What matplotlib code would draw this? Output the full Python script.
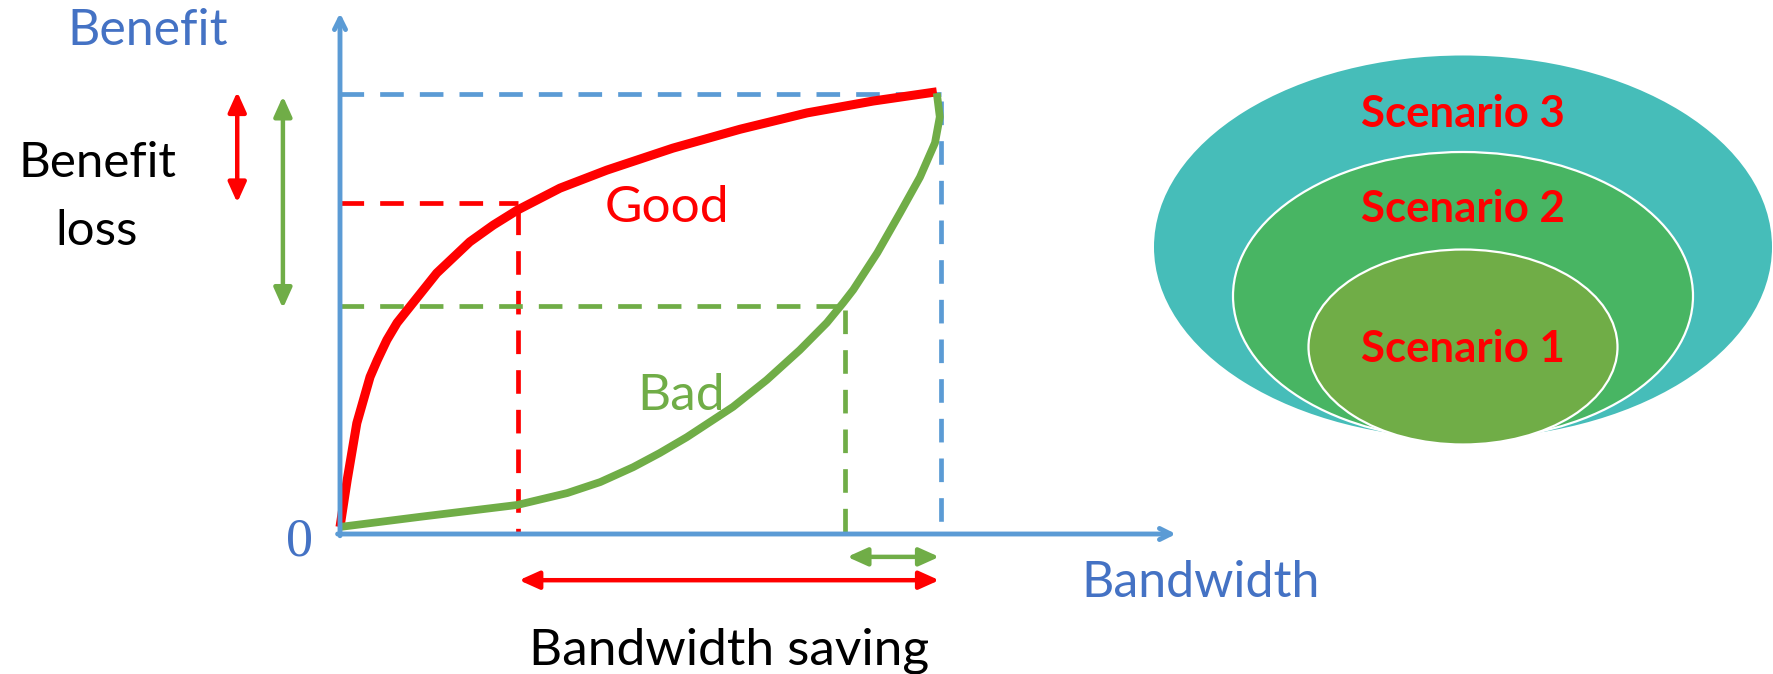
import numpy as np
import matplotlib.pyplot as plt
from matplotlib.patches import Ellipse

plt.rcParams['font.family'] = ['Lato', 'DejaVu Sans']

# curva "Good": beneficio cai pouco quando se reduz a banda
bw_good = [0.0, 0.012, 0.028, 0.050, 0.062, 0.078, 0.095, 0.116, 0.161, 0.216, 0.255,
           0.295, 0.366, 0.444, 0.554, 0.666, 0.777, 0.887, 0.993]
benefit_good = [0.016, 0.123, 0.252, 0.357, 0.395, 0.441, 0.480, 0.516, 0.593, 0.664, 0.702,
                0.736, 0.786, 0.827, 0.877, 0.920, 0.957, 0.984, 1.005]

# curva "Bad": beneficio cai rapido
bw_bad = [0.0, 0.133, 0.295, 0.378, 0.433, 0.488, 0.532, 0.577, 0.654, 0.710, 0.765,
          0.810, 0.837, 0.854, 0.894, 0.932, 0.965, 0.990, 0.998, 0.993]
benefit_bad = [0.016, 0.039, 0.066, 0.093, 0.118, 0.152, 0.184, 0.220, 0.289, 0.350, 0.418,
               0.480, 0.525, 0.555, 0.639, 0.730, 0.811, 0.889, 0.948, 1.002]

# banda total e beneficio maximo
full_bw = 1.0
full_benefit = 1.0
# pontos de operacao de cada curva (banda, beneficio)
good_bw, good_benefit = 0.296, 0.753
bad_bw, bad_benefit = 0.840, 0.518

scenarios = ['Scenario 3', 'Scenario 2', 'Scenario 1']

RED = '#FF0000'
GREEN = '#70AD47'
BLUE = '#5B9BD5'
TXT_BLUE = '#4472C4'

W, H = 1773, 674
fig = plt.figure(figsize=(W / 100, H / 100), dpi=100)

# eixo do grafico: origem em (340, 534) px, uma unidade = 601 x 440 px
ox, oy, ux, uy = 340, 534, 601, 440
ax = fig.add_axes([ox / W, (H - oy) / H, ux / W, uy / H])
ax.set_xlim(0, 1)
ax.set_ylim(0, 1)
ax.axis('off')

# camada em pixels para textos e elipses
lay = fig.add_axes([0, 0, 1, 1])
lay.set_xlim(0, W)
lay.set_ylim(H, 0)
lay.axis('off')

dash = (0, (5.0, 3.4))
kw = dict(lw=3.4, linestyle=dash, clip_on=False, dash_capstyle='butt')
# linhas tracejadas de referencia
ax.plot([0, full_bw], [full_benefit, full_benefit], color=BLUE, **kw)
ax.plot([full_bw, full_bw], [full_benefit - 0.015, 0.0], color=BLUE, **kw)
ax.plot([0, good_bw], [good_benefit, good_benefit], color=RED, **kw)
ax.plot([good_bw, good_bw], [good_benefit - 0.02, 0.0], color=RED, **kw)
ax.plot([0, bad_bw], [bad_benefit, bad_benefit], color=GREEN, **kw)
ax.plot([bad_bw, bad_bw], [bad_benefit - 0.01, 0.0], color=GREEN, **kw)

# eixos com seta aberta
axis_arrow = dict(arrowstyle='->,head_length=0.8,head_width=0.4', color=BLUE,
                  lw=3.5, shrinkA=0, shrinkB=0, capstyle='round', joinstyle='round')
ax.annotate('', xy=(0, 1.184), xytext=(0, -0.004), arrowprops=axis_arrow,
            annotation_clip=False)
ax.annotate('', xy=(1.391, 0), xytext=(-0.004, 0), arrowprops=axis_arrow,
            annotation_clip=False)

# curvas
ax.plot(bw_good, benefit_good, color=RED, lw=6.5, solid_capstyle='butt',
        solid_joinstyle='round', clip_on=False)
ax.plot(bw_bad, benefit_bad, color=GREEN, lw=5.6, solid_capstyle='butt',
        solid_joinstyle='round', clip_on=False)

# setas duplas: perda de beneficio e economia de banda
def seta(p0, p1, cor):
    ax.annotate('', xy=p1, xytext=p0, annotation_clip=False,
                arrowprops=dict(arrowstyle='<|-|>,head_length=0.6,head_width=0.27',
                                mutation_scale=20, color=cor, lw=3.2,
                                shrinkA=0, shrinkB=0))

seta((-0.171, good_benefit), (-0.171, full_benefit + 0.005), RED)
seta((-0.095, bad_benefit - 0.005), (-0.095, full_benefit - 0.005), GREEN)
seta((bad_bw + 0.004, -0.052), (full_bw - 0.003, -0.052), GREEN)
seta((good_bw + 0.002, -0.105), (full_bw - 0.003, -0.105), RED)

# textos
lay.text(148, 45, 'Benefit', color=TXT_BLUE, fontsize=36, ha='center', va='baseline')
lay.text(97, 177, 'Benefit', color='black', fontsize=35.5, ha='center', va='baseline')
lay.text(97, 245, 'loss', color='black', fontsize=35.5, ha='center', va='baseline')
lay.text(299, 555, '0', color=TXT_BLUE, fontsize=39, ha='center', va='baseline',
         family='Liberation Serif')
lay.text(667, 222, 'Good', color=RED, fontsize=37, ha='center', va='baseline')
lay.text(681, 410, 'Bad', color=GREEN, fontsize=37, ha='center', va='baseline')
lay.text(1201, 597, 'Bandwidth', color=TXT_BLUE, fontsize=36, ha='center', va='baseline')
lay.text(729, 665, 'Bandwidth saving', color='black', fontsize=37, ha='center',
         va='baseline')

# elipses dos cenarios (de fora para dentro)
centros = [(1463, 247), (1463, 296), (1463, 347)]
larguras = [618, 460, 309]
alturas = [383, 288, 195]
cores = ['#46BDB9', '#48B563', '#70AD47']
bordas = ['none', 'white', 'white']
texto_y = [127, 222, 362]
for c, w, h, cor, b, nome, ty in zip(centros, larguras, alturas, cores, bordas,
                                     scenarios, texto_y):
    lay.add_patch(Ellipse(c, w, h, facecolor=cor, edgecolor=b, lw=1.6))
    lay.text(c[0], ty, nome, color=RED, fontsize=31.5, fontweight='bold',
             ha='center', va='baseline')

fig.savefig('out.png', dpi=100)
